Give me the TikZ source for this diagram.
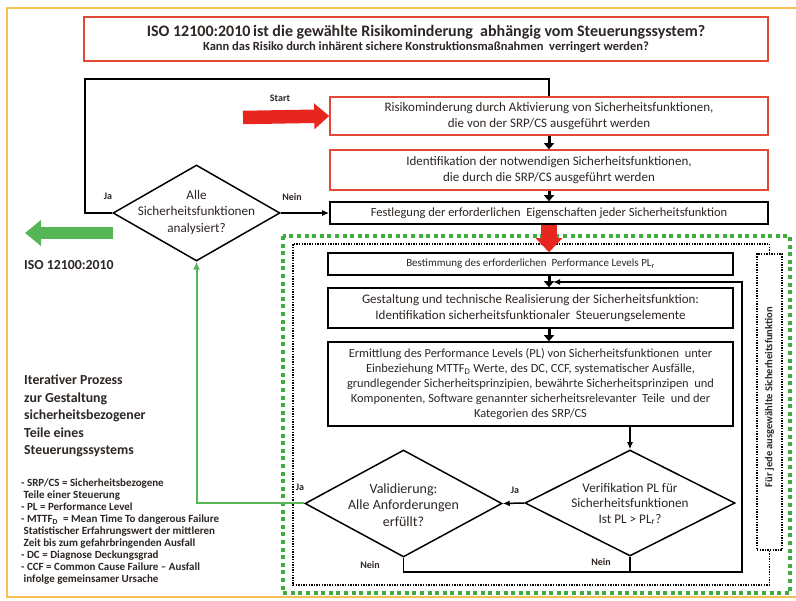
\documentclass[tikz,border=0pt]{standalone}
\usepackage{fontspec}
\setmainfont{Carlito}
\usetikzlibrary{arrows.meta,shapes.geometric}
\definecolor{boxred}{RGB}{226,72,52}
\definecolor{arrred}{RGB}{232,38,32}
\definecolor{grn}{RGB}{86,182,86}
\definecolor{dotgrn}{RGB}{64,172,64}
\definecolor{frameor}{RGB}{246,192,86}
\definecolor{txt}{RGB}{45,38,35}
\begin{document}
\begin{tikzpicture}[x=1pt,y=-1pt,
  every node/.style={text=txt},
  box/.style={draw, line width=1.6pt, fill=white, align=center, inner sep=0pt, font=\fontsize{13}{16}\selectfont},
  redbox/.style={box, draw=boxred},
  blkbox/.style={box, draw=black},
  dia/.style={shape=diamond, draw=black, line width=1.5pt, inner sep=0pt},
  diatext/.style={align=center, inner sep=0pt, font=\fontsize{14}{16.5}\selectfont},
  lbl/.style={inner sep=0pt, font=\bfseries\fontsize{10}{11}\selectfont},
  conn/.style={line width=1.5pt, -{Latex[length=7pt,width=6pt]}},
  thickarr/.style={line width=3pt, -{Triangle[length=6pt,width=10pt]}},
  blkdots/.style={line width=1.4pt, dash pattern=on 1.4pt off 1.2pt},
  grndots/.style={dotgrn, line width=4.2pt, dash pattern=on 4pt off 3.6pt},
]
\useasboundingbox (0,0) rectangle (796,601);
\fill[white] (0,0) rectangle (796,601);
% outer frame
\draw[frameor, line width=2pt] (800,8) -- (7,8) -- (7,597) -- (800,597);

% title
\node[redbox, minimum width=684, minimum height=44] (title) at (426,39)
  {{\bfseries\fontsize{16}{17}\selectfont ISO 12100:2010\,ist die gewählte Risikominderung\ \ abhängig vom Steuerungssystem?}\\[-2pt]
   {\bfseries\fontsize{12.5}{14}\selectfont Kann das Risiko durch inhärent sichere Konstruktionsmaßnahmen\ \ verringert werden?}};

% upper boxes
\node[redbox, minimum width=438, minimum height=38] (box1) at (549,116)
  {Risikominderung durch Aktivierung von Sicherheitsfunktionen,\\die von der SRP/CS ausgeführt werden};
\node[redbox, minimum width=438, minimum height=40] (box2) at (549,170)
  {Identifikation der notwendigen Sicherheitsfunktionen,\\die durch die SRP/CS ausgeführt werden};
\node[blkbox, minimum width=438, minimum height=22, font=\fontsize{12.5}{15}\selectfont] (box3) at (549,213)
  {Festlegung der erforderlichen\ \ Eigenschaften jeder Sicherheitsfunktion};

% diamond 1
\node[dia, minimum width=167, minimum height=96] (d1) at (196.5,213) {};
\node[diatext, font=\fontsize{13.2}{16.5}\selectfont] (d1t) at (196.5,212) {Alle\\Sicherheitsfunktionen\\analysiert?};

% frames of the iterative part
\draw[grndots] (283,236) rectangle (790,593);
\node[draw, blkdots, minimum width=25, minimum height=296, inner sep=0pt] (lab) at (769.5,402) {};
\node[rotate=90, inner sep=0pt, font=\bfseries\fontsize{10.5}{12}\selectfont] (labt) at ([yshift=5pt]lab.center) {Für jede ausgewählte Sicherheitsfunktion};
\coordinate (fA) at (293,244);
\coordinate (fB) at (293,585);
\draw[blkdots] (lab.north) |- (fA) -- (fB) -| (lab.south);

% lower boxes
\node[blkbox, minimum width=405, minimum height=22, font=\fontsize{11}{14}\selectfont] (box4) at (530.5,264)
  {Bestimmung des erforderlichen\ \ Performance Levels PL\textsubscript{r}};
\node[blkbox, minimum width=405, minimum height=40] (box5) at (530.5,308)
  {Gestaltung und technische Realisierung der Sicherheitsfunktion:\\Identifikation sicherheitsfunktionaler\ \ Steuerungselemente};
\node[blkbox, minimum width=405, minimum height=84, font=\fontsize{12.4}{15}\selectfont] (box6) at (530.5,384)
  {Ermittlung des Performance Levels (PL) von Sicherheitsfunktionen\ \ unter\\
   Einbeziehung MTTF\textsubscript{D} Werte, des DC, CCF, systematischer Ausfälle,\\
   grundlegender Sicherheitsprinzipien, bewährte Sicherheitsprinzipen\ \ und\\
   Komponenten, Software genannter sicherheitsrelevanter\ \ Teile\ \ und der\\
   Kategorien des SRP/CS};

% lower diamonds
\node[dia, minimum width=210, minimum height=106] (dver) at (630,503) {};
\node[diatext, font=\fontsize{13.2}{15.5}\selectfont] (dvert) at (630,504) {Verifikation PL für\\Sicherheitsfunktionen\\Ist PL > PL\textsubscript{r}?};
\node[dia, minimum width=197, minimum height=107] (dval) at (403.5,503.5) {};
\node[diatext] (dvalt) at (403.5,505) {Validierung:\\Alle Anforderungen\\erfüllt?};

% big arrows
\coordinate (startA) at (243,117.5);
\draw[arrred, line width=13.5pt, -{Triangle[length=15pt,width=25pt]}] (startA) -- (box1.west);
\draw[arrred, line width=16pt, -{Triangle[length=14pt,width=26pt]}] (box3.south) -- (box4.north -| box3.south);
\coordinate (isoA) at (113,233);
\coordinate (isoB) at (25,233);
\draw[grn, line width=12pt, -{Triangle[length=16pt,width=25pt]}] (isoA) -- (isoB);

% connectors
\draw[line width=1.8pt] (d1.west) -| (85,79) -| (box1.north);
\draw[thickarr] (box1.south) -- (box2.north);
\draw[thickarr] (box2.south) -- (box3.north);
\draw[conn] (d1.east) -- (box3.west);
\draw[thickarr] (box4.south -| box3.south) -- (box5.north -| box3.south);
\draw[thickarr] (box5.south -| box3.south) -- (box6.north -| box3.south);
\draw[conn] (box6.south -| dver.north) -- (dver.north);
\draw[conn] (dver.west) -- (dval.east);
\coordinate (loopR) at (742,572);
\coordinate (fb) at (553,282);
\draw[conn] (dval.south) |- (loopR) |- (fb);
\draw[line width=1.5pt] (dver.south) -- (dver.south |- loopR);
\draw[grn, line width=2pt, -{Latex[length=8pt,width=7pt]}] (dval.west) -| (d1.south);

% labels
\node[lbl] (lStart) at (280,98) {Start};
\node[lbl] (lJa1) at (108,196) {Ja};
\node[lbl] (lNein1) at (292,197) {Nein};
\node[lbl] (lJa2) at (300,487) {Ja};
\node[lbl] (lJa3) at (515,490) {Ja};
\node[lbl] (lNein2) at (370,565) {Nein};
\node[lbl] (lNein3) at (601,562) {Nein};

% left texts
\node[anchor=west, inner sep=0pt, font=\bfseries\fontsize{13.8}{15}\selectfont] (iso) at (24,265) {ISO 12100:2010};
\node[anchor=north west, align=left, inner sep=0pt, font=\bfseries\fontsize{13.8}{17.5}\selectfont] (iter) at (24,375)
  {Iterativer Prozess\\zur Gestaltung\\sicherheitsbezogener\\Teile eines\\Steuerungssystems};
\node[anchor=north west, align=left, inner sep=0pt, font=\bfseries\fontsize{11}{12}\selectfont] (legend) at (21,479)
  {- SRP/CS = Sicherheitsbezogene\\
   \ Teile einer Steuerung\\
   - PL = Performance Level\\
   - MTTF\textsubscript{D}\ \ = Mean Time To dangerous Failure\\
   \ Statistischer Erfahrungswert der mittleren\\
   \ Zeit bis zum gefahrbringenden Ausfall\\
   - DC = Diagnose Deckungsgrad\\
   - CCF = Common Cause Failure – Ausfall\\
   \ infolge gemeinsamer Ursache};
\end{tikzpicture}
\end{document}
